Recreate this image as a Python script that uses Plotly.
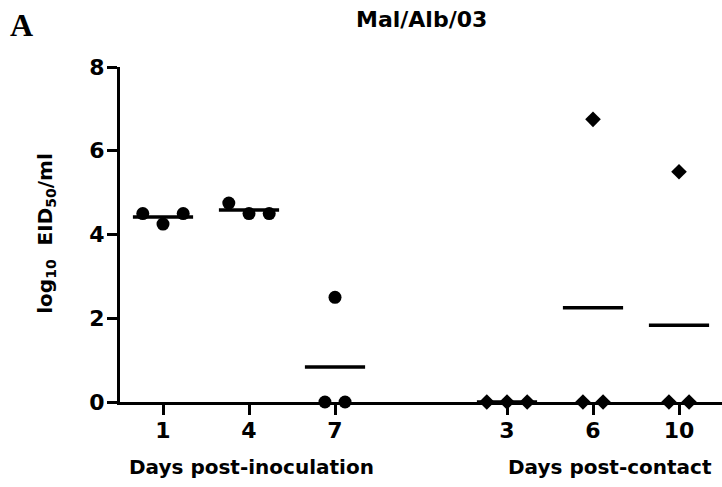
import numpy as np
import plotly.graph_objects as go

# ---- data ----
inoc_days = ["1", "4", "7"]
contact_days = ["3", "6", "10"]
inoc_values = [
    [4.5, 4.25, 4.5],
    [4.75, 4.5, 4.5],
    [0.0, 2.5, 0.0],
]
contact_values = [
    [0.0, 0.0, 0.0],
    [0.0, 6.75, 0.0],
    [0.0, 5.5, 0.0],
]
title_text = "Mal/Alb/03"
y_ticks = [0, 2, 4, 6, 8]

# ---- layout constants (positions / styles) ----
inoc_pos = [0, 1, 2]
contact_pos = [4, 5, 6]
inoc_offsets = [[-0.235, 0, 0.235], [-0.235, 0, 0.235], [-0.117, 0, 0.117]]
contact_offsets = [[-0.235, 0, 0.235], [-0.117, 0, 0.117], [-0.117, 0, 0.117]]
half_w = 0.35
FONT = "DejaVu Sans, Arial, sans-serif"

fig = go.Figure()

def add_group(positions, values, offsets, symbol, size):
    for p, vals, offs in zip(positions, values, offsets):
        m = float(np.mean(vals))
        fig.add_trace(go.Scatter(
            x=[p - half_w, p + half_w], y=[m, m], mode="lines",
            line=dict(color="black", width=3.5), cliponaxis=True,
            showlegend=False, hoverinfo="y"))
        fig.add_trace(go.Scatter(
            x=[p + o for o in offs], y=vals, mode="markers",
            marker=dict(symbol=symbol, size=size, color="black", line=dict(width=0)),
            cliponaxis=False, showlegend=False, hoverinfo="y"))

add_group(inoc_pos, inoc_values, inoc_offsets, "circle", 13)
add_group(contact_pos, contact_values, contact_offsets, "diamond", 12)

fig.update_layout(
    width=722, height=487,
    margin=dict(l=120, r=0, t=67, b=85),
    plot_bgcolor="white", paper_bgcolor="white",
    font=dict(family=FONT, color="black"),
    showlegend=False,
    xaxis=dict(
        range=[-0.5, 6.5], tickmode="array",
        tickvals=inoc_pos + contact_pos, ticktext=inoc_days + contact_days,
        showgrid=False, zeroline=False, showline=True, linecolor="black", linewidth=3,
        ticks="outside", ticklen=10, tickwidth=3, tickcolor="black",
        ticklabelstandoff=-3,
        tickfont=dict(family=FONT, size=22, color="black", weight="bold"),
    ),
    yaxis=dict(
        range=[0, 8], tickmode="array", tickvals=y_ticks,
        ticktext=[str(v) for v in y_ticks],
        showgrid=False, zeroline=False, showline=True, linecolor="black", linewidth=3,
        ticks="outside", ticklen=10, tickwidth=3, tickcolor="black",
        ticklabelstandoff=-2,
        tickfont=dict(family=FONT, size=22, color="black", weight="bold"),
    ),
)

annots = [
    dict(text="<b>" + title_text + "</b>", x=0.5, y=1.143, font=dict(size=22)),
    dict(text="<b>A</b>", x=-0.163, y=1.125,
         font=dict(size=32, family="Liberation Serif, Times New Roman, serif")),
    dict(text="<b>log<sub>10</sub>  EID<sub>50</sub>/ml</b>", x=-0.123, y=0.505,
         textangle=-90, font=dict(size=20)),
    dict(text="<b>Days post-inoculation</b>", x=(251 - 120) / 602, y=-0.194, font=dict(size=20)),
    dict(text="<b>Days post-contact</b>", x=(610 - 120) / 602, y=-0.194, font=dict(size=20)),
]
for a in annots:
    f = dict(family=FONT, color="black")
    f.update(a.pop("font"))
    fig.add_annotation(xref="paper", yref="paper", showarrow=False,
                       xanchor="center", yanchor="middle", font=f, **a)

fig.write_html("out.html")
